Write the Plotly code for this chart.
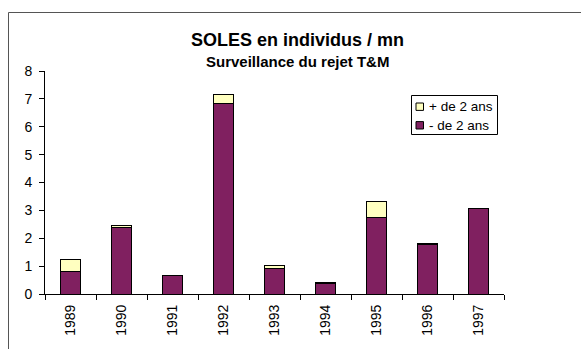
import plotly.graph_objects as go

years = ["1989", "1990", "1991", "1992", "1993", "1994", "1995", "1996", "1997"]
moins_2_ans = [0.82, 2.40, 0.67, 6.85, 0.93, 0.38, 2.73, 1.78, 3.07]
plus_2_ans = [0.40, 0.04, 0.01, 0.32, 0.08, 0.05, 0.58, 0.04, 0.01]

PURPLE = "#802060"
YELLOW = "#FFFFC0"

fig = go.Figure()
fig.add_trace(go.Bar(
    x=years, y=moins_2_ans, name="- de 2 ans",
    marker=dict(color=PURPLE, line=dict(color="black", width=1)),
))
fig.add_trace(go.Bar(
    x=years, y=plus_2_ans, name="+ de 2 ans",
    marker=dict(color=YELLOW, line=dict(color="black", width=1)),
))

W, H = 581, 349
L, R, T, B = 45, 77, 71, 55
pw, ph = W - L - R, H - T - B


def px_x(x):
    return (x - L) / pw


def px_y(y):
    return (H - B - y) / ph


# outer chart frame: only its top and left edges fall inside the page
fx0, fy0 = px_x(8.5), px_y(12.5)
fx1, fy1 = px_x(W), px_y(H)
frame_path = f"M {fx0} {fy1} L {fx0} {fy0} L {fx1} {fy0}"

legend_items = [("+ de 2 ans", YELLOW, 106.7), ("- de 2 ans", PURPLE, 125.3)]
shapes = [
    dict(type="path", xref="paper", yref="paper", path=frame_path,
         line=dict(color="#555555", width=1), layer="below"),
    # legend border
    dict(type="rect", xref="paper", yref="paper",
         x0=px_x(411.5), x1=px_x(497.5), y0=px_y(134.5), y1=px_y(95.5),
         line=dict(color="black", width=1), fillcolor="white"),
]
annotations = [
    dict(text="<b>SOLES en individus / mn</b>", x=px_x(297), y=px_y(40),
         xref="paper", yref="paper", showarrow=False,
         font=dict(size=18), xanchor="center", yanchor="middle"),
    dict(text="<b>Surveillance du rejet T&amp;M</b>", x=px_x(297), y=px_y(61),
         xref="paper", yref="paper", showarrow=False,
         font=dict(size=15), xanchor="center", yanchor="middle"),
]
for label, color, yc in legend_items:
    shapes.append(dict(type="rect", xref="paper", yref="paper",
                       x0=px_x(416), x1=px_x(423.5),
                       y0=px_y(yc + 3.7), y1=px_y(yc - 3.7),
                       line=dict(color="black", width=1), fillcolor=color))
    annotations.append(dict(text=label, x=px_x(426.5), y=px_y(yc),
                            xref="paper", yref="paper", showarrow=False,
                            font=dict(size=13.5), xanchor="left",
                            yanchor="middle"))

fig.update_layout(
    barmode="stack",
    bargap=0.6,
    width=W, height=H,
    margin=dict(l=L, r=R, t=T, b=B),
    paper_bgcolor="white",
    plot_bgcolor="white",
    font=dict(family="Liberation Sans, Arial, sans-serif", color="black", size=14),
    showlegend=False,
    annotations=annotations,
    shapes=shapes,
)

fig.update_xaxes(
    type="category",
    showline=True, linecolor="black", linewidth=1,
    ticks="outside", ticklen=5, tickcolor="black", tickson="boundaries",
    tickangle=-90, showgrid=False, tickfont=dict(size=14),
    ticklabelstandoff=4,
)
fig.update_yaxes(
    range=[0, 8], dtick=1,
    showline=True, linecolor="black", linewidth=1,
    ticks="outside", ticklen=5, tickcolor="black",
    showgrid=False, zeroline=False, tickfont=dict(size=14),
    ticklabelstandoff=4,
)

fig.write_html(
    "out.html",
    config={"displayModeBar": False},
    post_script="document.body.style.margin='0';document.body.style.overflow='hidden';",
)
